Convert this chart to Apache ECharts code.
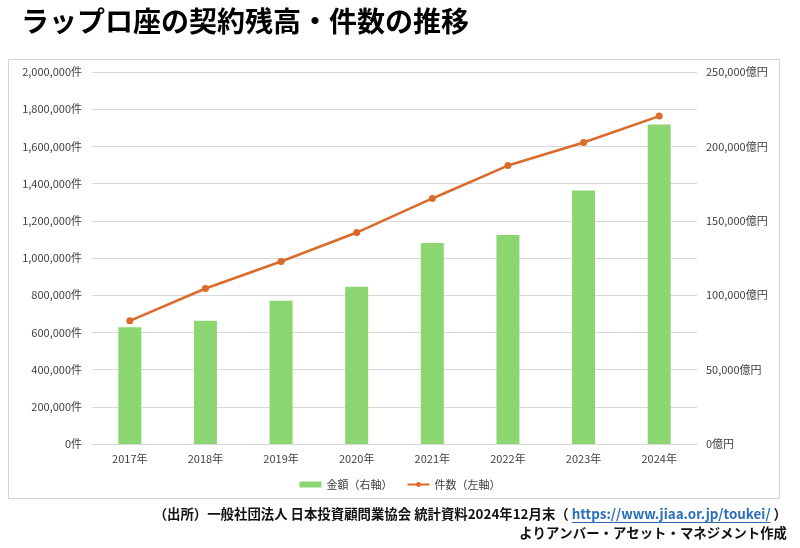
<!DOCTYPE html>
<html>
<head>
<meta charset="utf-8">
<script src="https://cdn.jsdelivr.net/npm/echarts@6/dist/echarts.min.js"></script>
<style>
html,body{margin:0;padding:0;background:#fff;}
#c{width:800px;height:548px;}
</style>
</head>
<body>
<div id="c"></div>
<script>
const categories = ['2017年','2018年','2019年','2020年','2021年','2022年','2023年','2024年'];
const amountOkuYen = [78500, 82900, 96200, 105600, 135000, 140400, 170400, 214700];
const contractCount = [662000, 836000, 981000, 1137000, 1320000, 1497000, 1621000, 1763000];
const seriesNames = ['金額（右軸）', '件数（左軸）'];
const titleText = 'ラップロ座の契約残高・件数の推移';
const sourceLine1 = '（出所）一般社団法人 日本投資顧問業協会 統計資料2024年12月末（ ';
const sourceUrl = 'https://www.jiaa.or.jp/toukei/';
const sourceTail = ' ）';
const sourceLine2 = 'よりアンバー・アセット・マネジメント作成';

const FONT = '"Noto Sans CJK JP", "Noto Sans", sans-serif';
const FOOT_SIZE = 13.4;
const fmt = v => v.toLocaleString('en-US');

// measure footer pieces for the URL underline
const cv = document.createElement('canvas').getContext('2d');
cv.font = 'bold ' + FOOT_SIZE + 'px ' + FONT;
const tailW = cv.measureText(sourceTail).width;
const urlW = cv.measureText(sourceUrl).width;
const rightEdge = 787;
const urlEnd = rightEdge - tailW;
const urlStart = urlEnd - urlW;

const chart = echarts.init(document.getElementById('c'));
chart.setOption({
  animation: false,
  textStyle: { fontFamily: FONT },
  title: {
    text: titleText,
    left: 16, top: 2,
    textStyle: { fontSize: 28, fontWeight: 'bold', color: '#000', fontFamily: FONT }
  },
  graphic: [
    { type: 'rect', shape: { x: 8.5, y: 59.5, width: 771, height: 439 },
      style: { fill: 'none', stroke: '#d4d4d4', lineWidth: 1 }, silent: true, z: -1 },
    { type: 'text', right: 800 - rightEdge, top: 507,
      style: {
        text: '{a|' + sourceLine1 + '}{u|' + sourceUrl + '}{a|' + sourceTail + '}',
        rich: {
          a: { fontSize: FOOT_SIZE, fontWeight: 'bold', fill: '#111', fontFamily: FONT },
          u: { fontSize: FOOT_SIZE, fontWeight: 'bold', fill: '#2a6ebb', fontFamily: FONT }
        }
      } },
    { type: 'line', shape: { x1: urlStart, y1: 522.5, x2: urlEnd, y2: 522.5 },
      style: { stroke: '#2a6ebb', lineWidth: 1 }, silent: true },
    { type: 'text', right: 800 - rightEdge, top: 526,
      style: { text: sourceLine2, fontSize: FOOT_SIZE, fontWeight: 'bold', fill: '#111', fontFamily: FONT } }
  ],
  legend: {
    top: 474, left: 'center',
    itemGap: 14,
    itemWidth: 22, itemHeight: 6,
    textStyle: { fontSize: 11, color: '#404040', fontFamily: FONT },
    data: [
      { name: seriesNames[0], icon: 'rect' },
      { name: seriesNames[1] }
    ]
  },
  grid: { left: 92, right: 103, top: 72, bottom: 104 },
  xAxis: {
    type: 'category',
    data: categories,
    axisTick: { show: false },
    axisLine: { lineStyle: { color: '#d9d9d9', width: 1 } },
    axisLabel: { fontSize: 11, color: '#404040', margin: 9, fontFamily: FONT }
  },
  yAxis: [
    {
      type: 'value', min: 0, max: 2000000, interval: 200000, position: 'left',
      axisLine: { show: false }, axisTick: { show: false },
      splitLine: { lineStyle: { color: '#d9d9d9', width: 1 } },
      axisLabel: { fontSize: 11, color: '#404040', margin: 10, formatter: v => fmt(v) + '件', fontFamily: FONT }
    },
    {
      type: 'value', min: 0, max: 250000, interval: 50000, position: 'right',
      axisLine: { show: false }, axisTick: { show: false },
      splitLine: { show: false },
      axisLabel: { fontSize: 11, color: '#404040', margin: 9, formatter: v => fmt(v) + '億円', fontFamily: FONT }
    }
  ],
  series: [
    {
      name: seriesNames[0], type: 'bar', yAxisIndex: 1,
      data: amountOkuYen,
      barWidth: 23,
      itemStyle: { color: '#8cd672' }
    },
    {
      name: seriesNames[1], type: 'line', yAxisIndex: 0,
      data: contractCount,
      symbol: 'circle', symbolSize: 7,
      lineStyle: { color: '#dc6a2a', width: 2.5 },
      itemStyle: { color: '#dc6a2a' }
    }
  ]
});
</script>
</body>
</html>
